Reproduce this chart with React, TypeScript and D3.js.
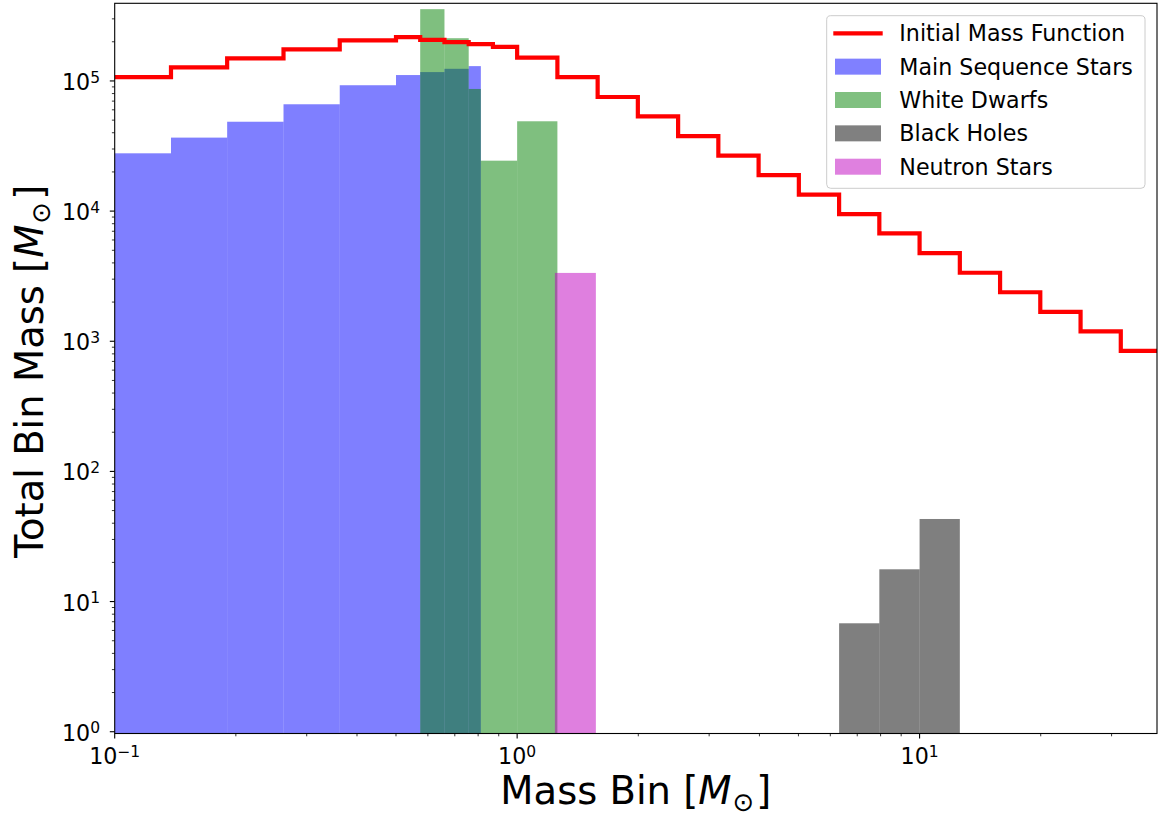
import React from "react";
import * as d3 from "d3";

// ---- data ----
const imfEdges = [0.1, 0.138, 0.1903, 0.2627, 0.3624, 0.5, 0.5743, 0.6598, 0.7579, 0.8706, 1.0,
  1.259, 1.585, 1.995, 2.512, 3.162, 3.981, 5.012, 6.31, 7.943, 10.0, 12.59, 15.85, 19.95, 25.12, 31.62, 39.81];
const imfValues = [1.07e5, 1.27e5, 1.49e5, 1.75e5, 2.05e5, 2.17e5, 2.07e5, 1.99e5, 1.92e5, 1.83e5,
  1.51e5, 1.07e5, 7.53e4, 5.35e4, 3.77e4, 2.67e4, 1.89e4, 1.34e4, 9.48e3, 6.74e3, 4.75e3, 3.36e3,
  2.38e3, 1.68e3, 1.19e3, 8.44e2];

const msEdges = [0.1, 0.138, 0.1903, 0.2627, 0.3624, 0.5, 0.5743, 0.6598, 0.7579, 0.8125];
const msValues = [2.78e4, 3.67e4, 4.86e4, 6.62e4, 9.27e4, 1.11e5, 1.17e5, 1.24e5, 1.3e5];

const wdEdges = [0.5743, 0.6598, 0.7579, 0.8125, 1.0, 1.259];
const wdValues = [3.56e5, 2.13e5, 8.68e4, 2.44e4, 4.9e4];

const bhEdges = [6.31, 7.943, 10.0, 12.59];
const bhValues = [6.81, 17.7, 43.1];

const nsEdges = [1.241, 1.569];
const nsValues = [3.35e3];

const xMajorTicks = [0.1, 1, 10];
const xTickExponents = ["\u22121", "0", "1"];
const yMajorTicks = [1, 10, 100, 1000, 10000, 100000];
const yTickExponents = ["0", "1", "2", "3", "4", "5"];

const legendItems = [
  { label: "Initial Mass Function", kind: "line", color: "#ff0000" },
  { label: "Main Sequence Stars", kind: "patch", color: "#8080ff" },
  { label: "White Dwarfs", kind: "patch", color: "#80c080" },
  { label: "Black Holes", kind: "patch", color: "#808080" },
  { label: "Neutron Stars", kind: "patch", color: "#df80df" },
];

const W = 1162, H = 818;
const L = 114.7, R = 1157, T = 3.3, B = 733.5;
const FONT = "'DejaVu Sans', sans-serif";
const LABEL_FS = 38.5;

export default function App() {
  const x = d3.scaleLog().domain([0.1, 38.9]).range([L, R]);
  const y = d3.scaleLog().domain([0.969, 3.95e5]).range([B, T]);

  const bars = (edges: number[], values: number[], fill: string, opacity: number, key: string) =>
    values.map((v, i) => (
      <rect key={key + i} x={x(edges[i])} y={y(v)} width={x(edges[i + 1]) - x(edges[i])}
        height={B - y(v)} fill={fill} fillOpacity={opacity} />
    ));

  const stepPts: [number, number][] = imfValues.map((v, i) => [imfEdges[i], v]);
  stepPts.push([imfEdges[imfEdges.length - 1], imfValues[imfValues.length - 1]]);
  const stepLine = d3.line<[number, number]>().x(d => x(d[0])).y(d => y(d[1])).curve(d3.curveStepAfter);

  const xMinor: number[] = [];
  [0.1, 1, 10].forEach(dec => { for (let k = 2; k <= 9; k++) { const v = dec * k; if (v <= 38.9) xMinor.push(v); } });
  const yMinor: number[] = [];
  [1, 10, 100, 1000, 10000, 100000].forEach(dec => { for (let k = 2; k <= 9; k++) { const v = dec * k; if (v <= 3.95e5) yMinor.push(v); } });

  const sub = (
    <>
      [<tspan fontStyle="italic">M</tspan><tspan dy={7} dx={1} fontSize={26}>{"\u2299"}</tspan><tspan dy={-7} dx={2}>]</tspan>
    </>
  );

  return (
    <svg width={W} height={H} style={{ position: "absolute", left: 0, top: 0, background: "#fff" }}
      fontFamily={FONT}>
      <defs>
        <clipPath id="plotclip"><rect x={L} y={T} width={R - L} height={B - T} /></clipPath>
      </defs>
      <rect x={0} y={0} width={W} height={H} fill="#fff" />
      <g clipPath="url(#plotclip)">
        {bars(msEdges, msValues, "#0000ff", 0.5, "ms")}
        {bars(wdEdges, wdValues, "#008000", 0.5, "wd")}
        {bars(bhEdges, bhValues, "#000000", 0.5, "bh")}
        {bars(nsEdges, nsValues, "#bf00bf", 0.5, "ns")}
        <path d={stepLine(stepPts) || ""} fill="none" stroke="#ff0000" strokeWidth={4.2} strokeLinejoin="miter" />
      </g>
      {/* spines */}
      <rect x={L} y={T} width={R - L} height={B - T} fill="none" stroke="#000" strokeWidth={1.1} />
      {/* x ticks */}
      {xMajorTicks.map((t, i) => (
        <g key={"xt" + i}>
          <line x1={x(t)} x2={x(t)} y1={B} y2={B + 4.9} stroke="#000" strokeWidth={1.1} />
          <text x={x(t)} y={764} textAnchor="middle" fontSize={22.2} fill="#000">
            10<tspan dy={-7.3} fontSize={15.5}>{xTickExponents[i]}</tspan>
          </text>
        </g>
      ))}
      {xMinor.map((t, i) => (
        <line key={"xm" + i} x1={x(t)} x2={x(t)} y1={B} y2={B + 2.8} stroke="#000" strokeWidth={0.8} />
      ))}
      {/* y ticks */}
      {yMajorTicks.map((t, i) => (
        <g key={"yt" + i}>
          <line x1={L - 4.9} x2={L} y1={y(t)} y2={y(t)} stroke="#000" strokeWidth={1.1} />
          <text x={100} y={y(t) + 9} textAnchor="end" fontSize={22.2} fill="#000">
            10<tspan dy={-7.3} fontSize={15.5}>{yTickExponents[i]}</tspan>
          </text>
        </g>
      ))}
      {yMinor.map((t, i) => (
        <line key={"ym" + i} x1={L - 2.8} x2={L} y1={y(t)} y2={y(t)} stroke="#000" strokeWidth={0.8} />
      ))}
      {/* axis labels */}
      <text x={(L + R) / 2} y={804} textAnchor="middle" fontSize={LABEL_FS} fill="#000">
        Mass Bin {sub}
      </text>
      <text transform={`translate(43,${(T + B) / 2 + 3}) rotate(-90)`} textAnchor="middle" fontSize={LABEL_FS} fill="#000">
        Total Bin Mass {sub}
      </text>
      {/* legend */}
      <rect x={826.7} y={15.7} width={318.3} height={172.6} rx={4} fill="#fff" fillOpacity={0.8}
        stroke="#cccccc" strokeWidth={1} />
      {legendItems.map((it, i) => {
        const cy = 33.3 + i * 33.35;
        return (
          <g key={"lg" + i}>
            {it.kind === "line" ? (
              <line x1={833.3} x2={882.7} y1={cy} y2={cy} stroke={it.color} strokeWidth={4.2} />
            ) : (
              <rect x={835} y={cy - 8} width={46} height={16} fill={it.color} />
            )}
            <text x={899.3} y={cy + 8} fontSize={22.2} fill="#000">{it.label}</text>
          </g>
        );
      })}
    </svg>
  );
}
